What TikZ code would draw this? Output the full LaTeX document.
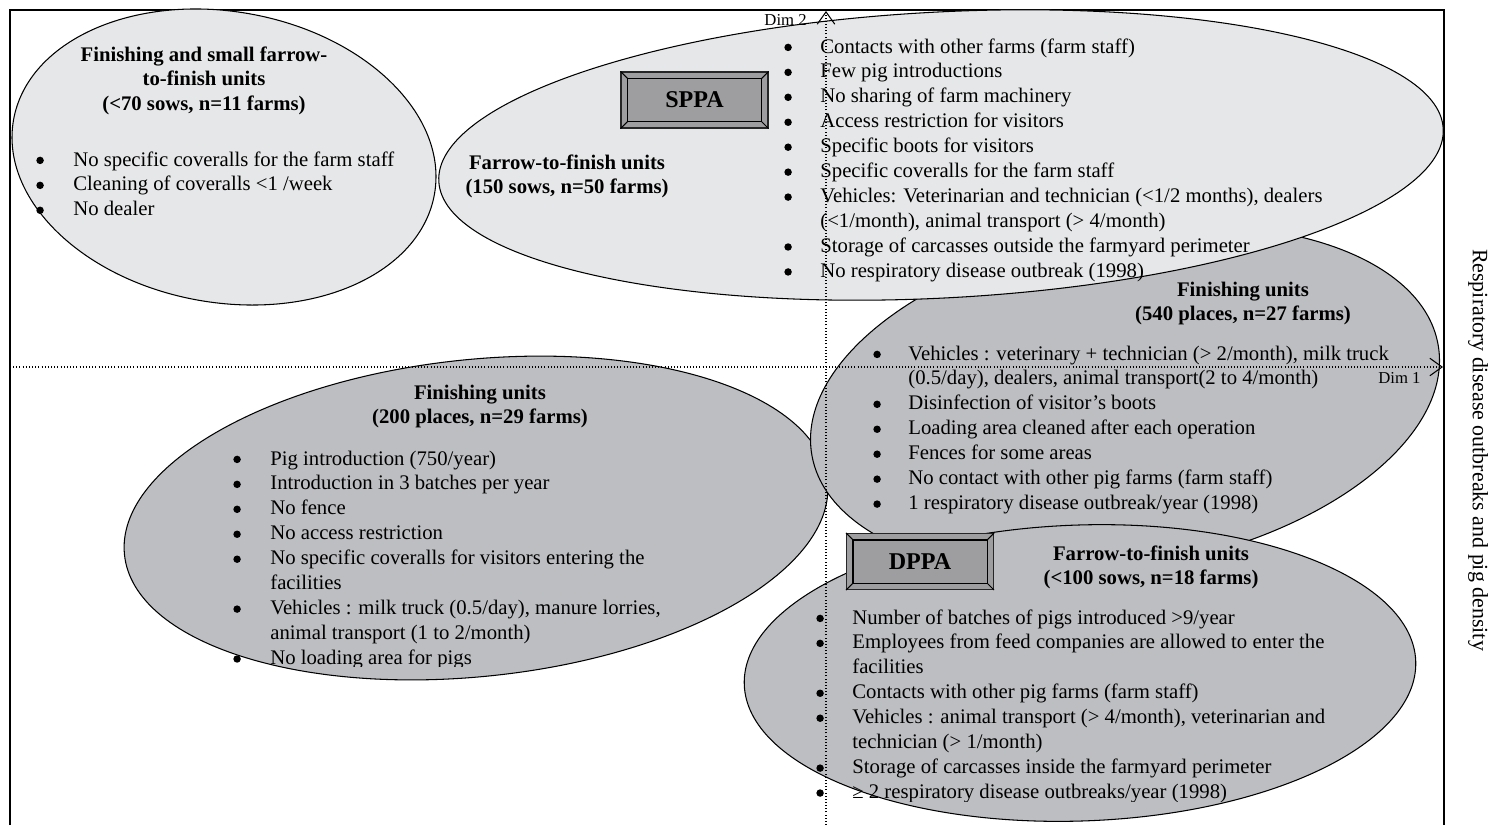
\documentclass[tikz,border=0pt]{standalone}
\usepackage{fontspec}
\setmainfont{Liberation Serif}
\usepackage{tikz}
\usetikzlibrary{shapes.geometric, arrows.meta, positioning}

\definecolor{zonelight}{RGB}{230,231,232}
\definecolor{zonedark}{RGB}{189,190,193}
\definecolor{boxgray}{RGB}{158,158,160}

\newcommand{\bodyfont}{\fontsize{11.8pt}{14.2pt}\selectfont}
\newcommand{\bul}{\tikz[baseline=0pt]\fill (0.18em,0.27em) circle[radius=0.18em];}

\begin{document}
\begin{tikzpicture}[
    x=0.02cm, y=-0.02cm,
    zone/.style={ellipse, draw=black, line width=0.6pt, inner sep=0pt},
    lightzone/.style={zone, fill=zonelight},
    darkzone/.style={zone, fill=zonedark},
    itemlist/.style={anchor=base west, inner sep=0pt, font=\bodyfont},
    heading/.style={anchor=base, inner sep=0pt, font=\bodyfont\bfseries},
    bevelbox/.style={rectangle, draw=black!85, fill=boxgray, line width=0.6pt, minimum width=2.94cm, minimum height=1.12cm, inner sep=0pt, font=\fontsize{13.7pt}{16pt}\selectfont\bfseries},
    axis/.style={dash pattern=on 0.5pt off 1.3pt, line width=0.6pt, -{Straight Barb[length=7pt, width=10pt]}},
    dimlabel/.style={inner sep=0pt, font=\fontsize{9.5pt}{11pt}\selectfont}
  ]
  \useasboundingbox (0,0) rectangle (1510,825);

  % frame
  \draw[line width=0.6pt] (10,825) -- (10,10) -- (1444,10) -- (1444,825);

  % clusters
  \node[darkzone, minimum width=14.14cm, minimum height=6.34cm, rotate=6] (fin200) at (476,518) {};
  \node[darkzone, minimum width=12.72cm, minimum height=6.72cm, rotate=10] (fin540) at (1125,400) {};
  \node[lightzone, minimum width=20.12cm, minimum height=5.72cm, rotate=3] (ftf150) at (941,155) {};
  \node[lightzone, minimum width=8.55cm, minimum height=5.82cm, rotate=-10] (small70) at (224,157) {};
  \node[darkzone, minimum width=13.44cm, minimum height=5.92cm, rotate=2] (ftf100) at (1080,673) {};

  % axes
  \coordinate (xfrom) at (10,367);
  \coordinate (xto) at (1443,367);
  \coordinate (yfrom) at (826,825);
  \coordinate (yto) at (826,11);
  \draw[axis] (xfrom) -- (xto);
  \draw[axis] (yfrom) -- (yto);
  \node[dimlabel, anchor=base east] (dimtwo) at (807,25) {Dim 2};
  \node[dimlabel, anchor=base west] (dimone) at (1378,383) {Dim 1};

  % headings
  \node[heading] (small70head) at (204,61) {\begin{tabular}[t]{@{}c@{}}Finishing and small farrow-\\to-finish units\\(<70 sows, n=11 farms)\end{tabular}};
  \node[heading] (ftf150head) at (567,169) {\begin{tabular}[t]{@{}c@{}}Farrow-to-finish units\\(150 sows, n=50 farms)\end{tabular}};
  \node[heading] (fin540head) at (1243,296) {\begin{tabular}[t]{@{}c@{}}Finishing units\\(540 places, n=27 farms)\end{tabular}};
  \node[heading] (fin200head) at (480,399) {\begin{tabular}[t]{@{}c@{}}Finishing units\\(200 places, n=29 farms)\end{tabular}};
  \node[heading] (ftf100head) at (1151,560) {\begin{tabular}[t]{@{}c@{}}Farrow-to-finish units\\(<100 sows, n=18 farms)\end{tabular}};

  % item lists
  \node[itemlist] (small70list) at (36,166) {\begin{tabular}[t]{@{}p{0.74cm}@{}l@{}}
    \bul & No specific coveralls for the farm staff\\
    \bul & Cleaning of coveralls <1 /week\\
    \bul & No dealer
  \end{tabular}};
  \node[itemlist] (ftf150list) at (784,53) {\begin{tabular}[t]{@{}p{0.72cm}@{}l@{}}
    \bul & Contacts with other farms (farm staff)\\
    \bul & Few pig introductions\\
    \bul & No sharing of farm machinery\\
    \bul & Access restriction for visitors\\
    \bul & Specific boots for visitors\\
    \bul & Specific coveralls for the farm staff\\
    \bul & Vehicles: Veterinarian and technician (<1/2 months), dealers\\
         & (<1/month), animal transport (> 4/month)\\
    \bul & Storage of carcasses outside the farmyard perimeter\\
    \bul & No respiratory disease outbreak (1998)
  \end{tabular}};
  \node[itemlist] (fin540list) at (873,360) {\begin{tabular}[t]{@{}p{0.70cm}@{}l@{}}
    \bul & Vehicles : veterinary + technician (> 2/month), milk truck\\
         & (0.5/day), dealers, animal transport(2 to 4/month)\\
    \bul & Disinfection of visitor’s boots\\
    \bul & Loading area cleaned after each operation\\
    \bul & Fences for some areas\\
    \bul & No contact with other pig farms (farm staff)\\
    \bul & 1 respiratory disease outbreak/year (1998)
  \end{tabular}};
  \begin{scope}
    \clip (0,0) rectangle (1510,666);
    \node[itemlist] (fin200list) at (233,465) {\begin{tabular}[t]{@{}p{0.74cm}@{}l@{}}
      \bul & Pig introduction (750/year)\\
      \bul & Introduction in 3 batches per year\\
      \bul & No fence\\
      \bul & No access restriction\\
      \bul & No specific coveralls for visitors entering the\\
           & facilities\\
      \bul & Vehicles : milk truck (0.5/day), manure lorries,\\
           & animal transport (1 to 2/month)\\
      \bul & No loading area for pigs
    \end{tabular}};
  \end{scope}
  \begin{scope}
    \clip (0,0) rectangle (1510,801);
    \node[itemlist] (ftf100list) at (816,624) {\begin{tabular}[t]{@{}p{0.72cm}@{}l@{}}
      \bul & Number of batches of pigs introduced >9/year\\
      \bul & Employees from feed companies are allowed to enter the\\
           & facilities\\
      \bul & Contacts with other pig farms (farm staff)\\
      \bul & Vehicles : animal transport (> 4/month), veterinarian and\\
           & technician (> 1/month)\\
      \bul & Storage of carcasses inside the farmyard perimeter\\
      \bul & ≥ 2 respiratory disease outbreaks/year (1998)
    \end{tabular}};
  \end{scope}

  % pressure boxes
  \node[bevelbox] (sppa) at (694.5,100) {SPPA};
  \node[bevelbox] (dppa) at (920,561.5) {DPPA};
  \foreach \b in {sppa,dppa}{
    \draw[line width=0.6pt] ([shift={(7,7)}]\b.north west) rectangle ([shift={(-7,-7)}]\b.south east);
    \draw[line width=0.6pt] (\b.north west) -- ++(7,7);
    \draw[line width=0.6pt] (\b.north east) -- ++(-7,7);
    \draw[line width=0.6pt] (\b.south west) -- ++(7,-7);
    \draw[line width=0.6pt] (\b.south east) -- ++(-7,-7);
  }

  \node[rotate=-90, inner sep=0pt, font=\fontsize{12.5pt}{15pt}\selectfont] (sidelabel) at (1478,450) {Respiratory disease outbreaks and pig density};

\end{tikzpicture}
\end{document}
